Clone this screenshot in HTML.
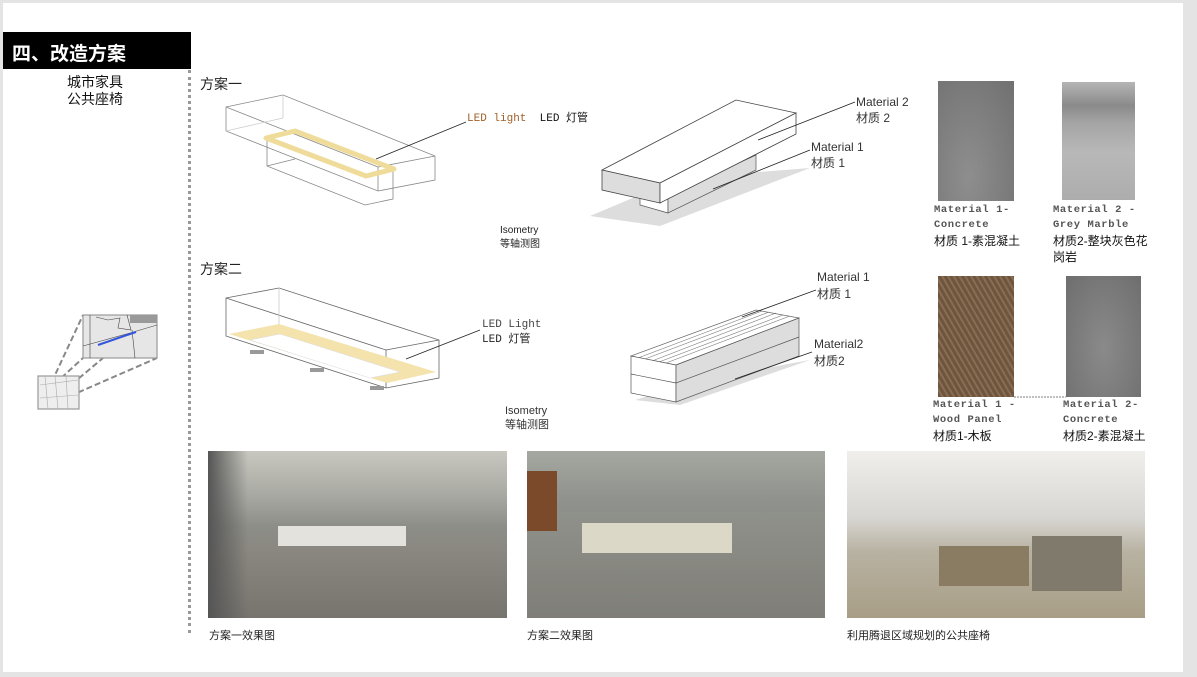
<!DOCTYPE html>
<html><head><meta charset="utf-8"><style>
body{margin:0;width:1197px;height:677px;background:#e4e4e4;position:relative;overflow:hidden;font-family:"Liberation Sans","Noto Sans CJK SC",sans-serif;}
.slide{position:absolute;left:3px;top:3px;width:1180px;height:669px;background:#fff;}
.t{position:absolute;color:#222;white-space:nowrap;}
.m{font-family:"Liberation Mono","Noto Sans CJK SC",monospace;font-size:10.5px;color:#555;letter-spacing:0.6px;line-height:15px;font-weight:bold}
.c{font-size:12px;line-height:16px;color:#111}
.img{position:absolute}
</style></head><body>
<div class="slide"></div>
<div style="position:absolute;left:3px;top:32px;width:188px;height:37px;background:#000"></div>
<div class="t" style="left:12px;top:39px;color:#fff;font-size:19px;font-weight:bold">四、改造方案</div>
<div class="t" style="left:67px;top:74px;font-size:14px;line-height:17px;color:#111">城市家具<br>公共座椅</div>
<div style="position:absolute;left:188px;top:70px;height:563px;border-left:3px dotted #999"></div>
<div class="t" style="left:200px;top:74px;font-size:14px">方案一</div>
<div class="t" style="left:200px;top:259px;font-size:14px">方案二</div>

<svg style="position:absolute;left:0;top:0" width="1197" height="677">
<g fill="none" stroke="#888" stroke-width="0.8">
<polygon points="226,107 283,95 435,156 435,180 378,191 226,131"/>
<line x1="226" y1="107" x2="378" y2="167"/><line x1="378" y1="167" x2="435" y2="156"/><line x1="378" y1="167" x2="378" y2="191"/>
<polyline points="267,141 267,166 365,205 393,199 393,170" /><line x1="267" y1="166" x2="295" y2="159"/>
<line x1="226" y1="131" x2="283" y2="118" stroke="#ccc"/><line x1="283" y1="95" x2="283" y2="118" stroke="#ccc"/>
</g>
<polygon points="266,138 295,131 394,169 366,176" fill="none" stroke="#f0dc9a" stroke-width="5" stroke-linejoin="round"/>
<line x1="376" y1="159" x2="466" y2="122" stroke="#222" stroke-width="0.8"/>
<g fill="none" stroke="#666" stroke-width="0.8">
<polygon points="226,298 279,288 439,340 439,378 386,388 226,336"/>
<line x1="226" y1="298" x2="386" y2="350"/><line x1="386" y1="350" x2="439" y2="340"/><line x1="386" y1="350" x2="386" y2="388"/>
<line x1="279" y1="288" x2="279" y2="325" stroke="#ccc"/>
</g>
<polygon points="229,334 279,324 436,372 387,383" fill="#f4e3ad"/>
<polygon points="250,340 280,334 400,372 370,378" fill="#fff" stroke="#ddd" stroke-width="0.6"/>
<g fill="#999"><rect x="250" y="350" width="14" height="4"/><rect x="310" y="368" width="14" height="4"/><rect x="370" y="386" width="14" height="4"/></g>
<line x1="406" y1="359" x2="480" y2="330" stroke="#222" stroke-width="0.8"/>
<polygon points="590,216 680,178 810,168 660,226" fill="#ddd"/>
<polygon points="640,195 668,195 668,213 640,205" fill="#fff" stroke="#555" stroke-width="0.7"/>
<polygon points="668,195 756,155 756,170 668,213" fill="#ddd" stroke="#555" stroke-width="0.7"/>
<polygon points="602,170 736,100 796,113 660,183" fill="#fff" stroke="#444" stroke-width="0.8"/>
<polygon points="602,170 660,183 660,203 602,190" fill="#ddd" stroke="#444" stroke-width="0.8"/>
<polygon points="660,183 796,113 796,134 660,203" fill="#fff" stroke="#444" stroke-width="0.8"/>
<line x1="758" y1="140" x2="855" y2="102" stroke="#222" stroke-width="0.8"/>
<line x1="713" y1="189" x2="810" y2="150" stroke="#222" stroke-width="0.8"/>
<polygon points="635,400 700,380 810,360 680,405" fill="#ddd"/>
<polygon points="631,356 756,310 799,318 676,365" fill="#fff" stroke="#666" stroke-width="0.7"/>
<g stroke="#777" stroke-width="0.6"><line x1="638" y1="358" x2="762" y2="311"/><line x1="645" y1="359" x2="769" y2="312"/><line x1="652" y1="361" x2="776" y2="313"/><line x1="659" y1="362" x2="783" y2="315"/><line x1="666" y1="363" x2="790" y2="316"/></g>
<polygon points="631,356 676,365 676,402 631,393" fill="#fff" stroke="#555" stroke-width="0.7"/>
<polygon points="676,365 799,318 799,356 676,402" fill="#ddd" stroke="#555" stroke-width="0.7"/>
<line x1="631" y1="374" x2="676" y2="383" stroke="#555" stroke-width="0.7"/><line x1="676" y1="383" x2="799" y2="337" stroke="#555" stroke-width="0.7"/>
<line x1="742" y1="317" x2="816" y2="290" stroke="#222" stroke-width="0.8"/>
<line x1="735" y1="379" x2="812" y2="352" stroke="#222" stroke-width="0.8"/>
<g stroke="#888" stroke-width="2" stroke-dasharray="6,3" fill="none">
<line x1="48" y1="390" x2="83" y2="315"/><line x1="48" y1="390" x2="83" y2="358"/><line x1="65" y1="390" x2="103" y2="358"/><line x1="70" y1="396" x2="157" y2="358"/></g>
<rect x="83" y="315" width="74" height="43" fill="#e6e6e6" stroke="#999" stroke-width="1.2"/>
<path d="M90,315 L90,358 M96,317 L108,320 L120,318 L118,328 L131,330 L127,315 M83,346 L130,333 L157,325 M132,330 L135,358" stroke="#444" stroke-width="0.6" fill="none"/>
<rect x="130" y="315" width="27" height="8" fill="#999"/>
<line x1="98" y1="345" x2="136" y2="332" stroke="#3355dd" stroke-width="2"/>
<rect x="38" y="376" width="41" height="33" fill="#eee" stroke="#999" stroke-width="1.2"/>
<path d="M40,385 L78,380 M45,376 L48,409 M55,376 L58,409 M40,398 L78,395 M66,376 L68,409" stroke="#aaa" stroke-width="0.6"/>
<line x1="1014" y1="397" x2="1066" y2="397" stroke="#555" stroke-dasharray="2,1" stroke-width="0.8"/>
</svg>

<div class="t" style="left:467px;top:109px;font-size:11px;font-family:'Liberation Mono','Noto Sans CJK SC',monospace"><span style="color:#a0602a">LED light</span>&nbsp; <span style="color:#111">LED 灯管</span></div>
<div class="t" style="left:482px;top:318px;font-size:11px;line-height:15px;font-family:'Liberation Mono','Noto Sans CJK SC',monospace"><span style="color:#444">LED Light</span><br>LED 灯管</div>
<div class="t" style="left:500px;top:224px;font-size:10px;line-height:14px">Isometry<br>等轴测图</div>
<div class="t" style="left:505px;top:404px;font-size:11px;line-height:14px;color:#333">Isometry<br>等轴测图</div>
<div class="t" style="left:856px;top:94px;font-size:12px;line-height:16px;color:#333">Material 2<br>材质 2</div>
<div class="t" style="left:811px;top:139px;font-size:12px;line-height:16px;color:#333">Material 1<br>材质 1</div>
<div class="t" style="left:817px;top:269px;font-size:12px;line-height:17px;color:#333">Material 1<br>材质 1</div>
<div class="t" style="left:814px;top:336px;font-size:12px;line-height:17px;color:#333">Material2<br>材质2</div>

<div class="img" style="left:938px;top:81px;width:76px;height:120px;background:radial-gradient(ellipse at 40% 80%,#8e8e8e,#707070)"></div>
<div class="img" style="left:1062px;top:82px;width:73px;height:118px;background:linear-gradient(#b5b5b5 0%,#8a8a8a 20%,#a5a5a5 35%,#b8b8b8 60%,#adadad 100%)"></div>
<div class="img" style="left:938px;top:276px;width:76px;height:121px;background:repeating-linear-gradient(60deg,#6d5540 0 3px,#8a6d50 3px 5px),#7a6048"></div>
<div class="img" style="left:1066px;top:276px;width:75px;height:121px;background:radial-gradient(ellipse at 50% 60%,#8a8a8a,#6e6e6e)"></div>

<div class="t" style="left:934px;top:203px"><div class="m">Material 1-<br>Concrete</div><div class="c">材质 1-素混凝土</div></div>
<div class="t" style="left:1053px;top:203px"><div class="m">Material 2 -<br>Grey Marble</div><div class="c">材质2-整块灰色花<br>岗岩</div></div>
<div class="t" style="left:933px;top:398px"><div class="m">Material 1 -<br>Wood Panel</div><div class="c">材质1-木板</div></div>
<div class="t" style="left:1063px;top:398px"><div class="m">Material 2-<br>Concrete</div><div class="c">材质2-素混凝土</div></div>

<div class="img" style="left:208px;top:451px;width:299px;height:167px;background:linear-gradient(#c8c8c0 0%,#a6a7a0 28%,#8d8e88 45%,#8a8780 60%,#77746e 100%)">
<div style="position:absolute;left:70px;top:75px;width:128px;height:20px;background:#e4e2dc"></div>
<div style="position:absolute;left:0;top:0;width:40px;height:167px;background:linear-gradient(90deg,#555 ,transparent)"></div>
</div>
<div class="img" style="left:527px;top:451px;width:298px;height:167px;background:linear-gradient(#a4a8a0 0%,#8f928c 30%,#8c8d86 50%,#7f7e78 100%)">
<div style="position:absolute;left:55px;top:72px;width:150px;height:30px;background:#dcd8c8"></div>
<div style="position:absolute;left:0;top:20px;width:30px;height:60px;background:#7a4a2a"></div>
</div>
<div class="img" style="left:847px;top:451px;width:298px;height:167px;background:linear-gradient(#f0efec 0%,#d8d6d2 40%,#b8b2a2 60%,#a89e86 100%)">
<div style="position:absolute;left:92px;top:95px;width:90px;height:40px;background:#8a7c62"></div>
<div style="position:absolute;left:185px;top:85px;width:90px;height:55px;background:#7f7a6c"></div>
</div>
<div class="t" style="left:209px;top:627px;font-size:11px">方案一效果图</div>
<div class="t" style="left:527px;top:627px;font-size:11px">方案二效果图</div>
<div class="t" style="left:847px;top:627px;font-size:11px">利用腾退区域规划的公共座椅</div>
</body></html>
